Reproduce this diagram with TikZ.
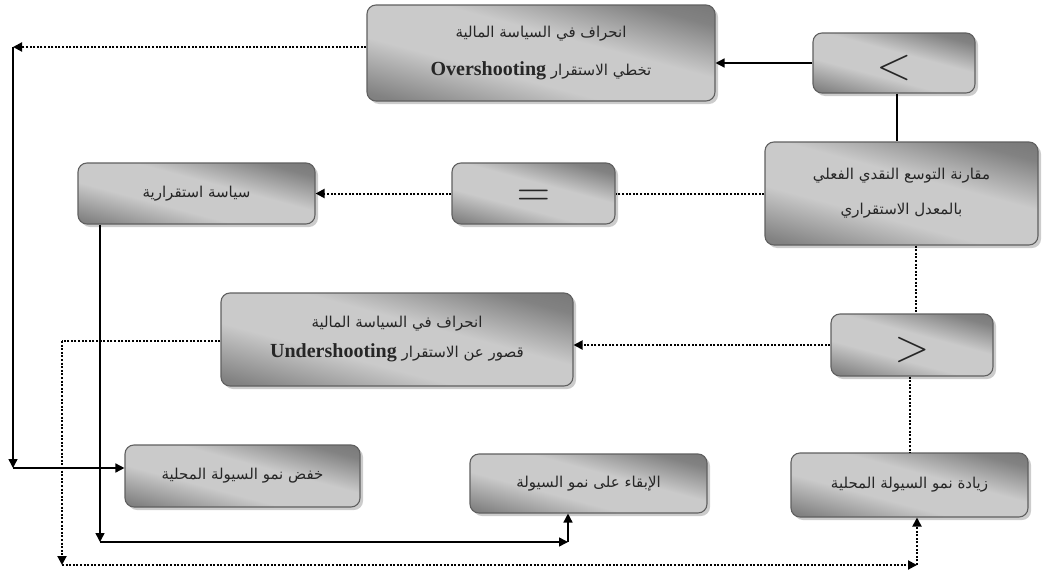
\documentclass[tikz,border=0pt]{standalone}
\usepackage{fontspec}
\setmainfont{Liberation Serif}
\newfontfamily\arabicfont[Script=Arabic]{DejaVu Sans}
\TeXXeTstate=1
\usetikzlibrary{arrows.meta,shadows,calc}
\definecolor{sA}{HTML}{5E5E5E}
\definecolor{sB}{HTML}{828282}
\definecolor{sC}{HTML}{CACACA}
\definecolor{bedge}{HTML}{606060}
% grey sheen: dark lower-left and upper-right corners, light middle
\pgfdeclareverticalshading{boxshade}{100bp}{color(0bp)=(sA); color(22bp)=(sB); color(40bp)=(sC); color(57bp)=(sC); color(74bp)=(sB); color(100bp)=(sA)}
\tikzset{
  box/.style={rounded corners=9pt, draw=bedge, line width=1.1pt,
    shading=boxshade, shading angle=-15,
    drop shadow={shadow xshift=3pt, shadow yshift=-3pt, fill=black, opacity=0.2},
    inner sep=0pt, text=black!85, align=center,
    font=\arabicfont\fontsize{15}{30}\selectfont},
  sym/.style={font=\fontsize{24}{24}\selectfont},
  solidln/.style={line width=1.5pt, black},
  dotln/.style={line width=2pt, black, dash pattern=on 2pt off 1.6pt},
  arr/.style={-{Triangle[length=9pt,width=9pt]}},
}
\newcommand{\rtl}[1]{\beginR #1\endR}
\newcommand{\lat}[1]{{\rmfamily\bfseries\fontsize{20}{20}\selectfont #1}}
\newcommand{\bigsym}[1]{\raisebox{-5pt}[\height][\depth]{\scalebox{1.85}{$#1$}}}
\begin{document}
\begin{tikzpicture}[x=1pt,y=-1pt]
\useasboundingbox (0,0) rectangle (1042,573);

% boxes
\node[box, minimum width=348pt, minimum height=96pt, font=\arabicfont\fontsize{15}{38}\selectfont] (over) at (541,53)
  {\rtl{انحراف في السياسة المالية}\\ \lat{Overshooting}\ \rtl{تخطي الاستقرار}};
\node[box, sym, minimum width=162pt, minimum height=60pt] (lt) at (894,63) {\bigsym{<}};
\node[box, minimum width=273pt, minimum height=103pt, font=\arabicfont\fontsize{15}{35}\selectfont] (cmp) at (901.5,193.5)
  {\rtl{مقارنة التوسع النقدي الفعلي}\\ \rtl{بالمعدل الاستقراري}};
\node[box, sym, minimum width=163pt, minimum height=61pt] (eq) at (533.5,193.5) {\bigsym{=}};
\node[box, minimum width=237pt, minimum height=61pt] (siv) at (196.5,193.5) {\rtl{سياسة استقرارية}};
\node[box, minimum width=352pt, minimum height=93pt] (under) at (397,339.5)
  {\rtl{انحراف في السياسة المالية}\\ \lat{Undershooting}\ \rtl{قصور عن الاستقرار}};
\node[box, sym, minimum width=162pt, minimum height=62pt] (gt) at (912,345) {\bigsym{>}};
\node[box, minimum width=235pt, minimum height=62pt] (kh) at (242.5,476) {\rtl{خفض نمو السيولة المحلية}};
\node[box, minimum width=237pt, minimum height=59pt] (ib) at (588.5,483.5) {\rtl{الإبقاء على نمو السيولة}};
\node[box, minimum width=237pt, minimum height=64pt] (zy) at (909.5,485) {\rtl{زيادة نمو السيولة المحلية}};

% bends of the outer connectors
\coordinate (c1) at (13,47);
\coordinate (c2) at (13,468);
\coordinate (c3) at (100,542);
\coordinate (c4) at (568,542);
\coordinate (c5) at (62,341);
\coordinate (c6) at (62,565);
\coordinate (c7) at (917,565);

% connectors
\draw[solidln, arr] (lt.west) -- (lt.west -| over.east);
\draw[solidln] ([xshift=3pt]lt.south) -- ([xshift=3pt]lt.south |- cmp.north);
\draw[dotln] (cmp.west) -- (eq.east);
\draw[dotln, arr] (eq.west) -- (siv.east);
\draw[dotln] ([xshift=14.5pt]cmp.south) -- ([xshift=14.5pt]cmp.south |- gt.north);
\draw[dotln, arr] (gt.west) -- (gt.west -| under.east);
\draw[dotln] (zy.north |- gt.south) -- (zy.north);

\draw[dotln, arr] (over.west |- c1) -- (c1);
\draw[solidln, arr] (c1) -- (c2);
\draw[solidln, arr] (c2) -- (c2 -| kh.west);

\draw[solidln, arr] (siv.south -| c3) -- (c3);
\draw[solidln, arr] (c3) -- (c4);
\draw[solidln, arr] (c4) -- (c4 |- ib.south);

\draw[dotln] (under.west |- c5) -- (c5);
\draw[dotln, arr] (c5) -- (c6);
\draw[dotln, arr] (c6) -- (c7);
\draw[dotln, arr] (c7) -- (c7 |- zy.south);
\end{tikzpicture}
\end{document}
